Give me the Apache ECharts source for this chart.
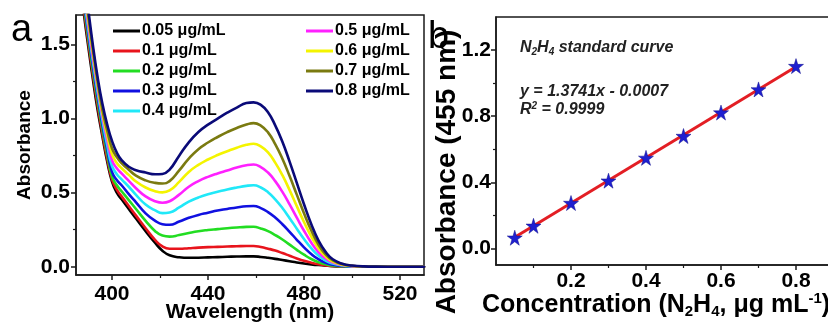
<!DOCTYPE html>
<html><head><meta charset="utf-8">
<script src="https://cdn.jsdelivr.net/npm/echarts@6/dist/echarts.min.js"></script>
<style>html,body{margin:0;padding:0;background:#fff}#c{width:828px;height:324px}</style>
</head><body><div id="c"></div>
<script>
// ---------- Panel a: UV-vis spectra ----------
const wavelengths = [385,388,390,392,394,396,398,400,402,404,407,410,414,418,421,424,428,432,436,440,444,448,452,456,459,462,465,468,471,474,477,480,483,486,489,492,496,500,505,510,520,530];
const abs005 = [2.2,1.75,1.50,1.27,1.06,0.88,0.71,0.575,0.50,0.455,0.39,0.325,0.24,0.16,0.108,0.077,0.064,0.06,0.061,0.063,0.065,0.067,0.069,0.07,0.07,0.066,0.060,0.053,0.045,0.037,0.029,0.022,0.016,0.011,0.007,0.004,0.002,0.001,0,0,0,0];
const abs01  = [2.25,1.78,1.53,1.30,1.09,0.90,0.73,0.59,0.52,0.475,0.41,0.345,0.26,0.18,0.137,0.121,0.121,0.125,0.129,0.132,0.134,0.136,0.138,0.14,0.14,0.133,0.122,0.109,0.092,0.074,0.056,0.040,0.027,0.016,0.009,0.005,0.002,0.001,0,0,0,0];
const abs02  = [2.3,1.81,1.56,1.33,1.12,0.93,0.76,0.61,0.55,0.51,0.45,0.39,0.31,0.24,0.21,0.203,0.214,0.228,0.24,0.248,0.254,0.26,0.265,0.269,0.27,0.258,0.240,0.214,0.184,0.149,0.114,0.081,0.052,0.031,0.016,0.008,0.003,0.001,0,0,0,0];
const abs03  = [2.35,1.84,1.59,1.36,1.15,0.96,0.79,0.64,0.585,0.55,0.49,0.435,0.36,0.31,0.287,0.283,0.305,0.33,0.35,0.365,0.38,0.39,0.40,0.408,0.41,0.396,0.369,0.332,0.287,0.236,0.182,0.131,0.086,0.051,0.027,0.014,0.005,0.002,0.001,0,0,0];
const abs04  = [2.4,1.87,1.62,1.39,1.18,0.99,0.82,0.68,0.625,0.59,0.54,0.485,0.42,0.38,0.362,0.366,0.40,0.44,0.468,0.49,0.506,0.522,0.535,0.546,0.55,0.535,0.503,0.455,0.396,0.328,0.257,0.187,0.125,0.075,0.041,0.021,0.008,0.003,0.001,0,0,0];
const abs05  = [2.42,1.9,1.65,1.42,1.21,1.02,0.86,0.72,0.665,0.63,0.58,0.53,0.475,0.442,0.432,0.442,0.487,0.54,0.578,0.607,0.63,0.65,0.67,0.685,0.69,0.673,0.636,0.578,0.505,0.421,0.331,0.243,0.164,0.099,0.055,0.028,0.011,0.004,0.001,0,0,0];
const abs06  = [2.45,1.93,1.68,1.45,1.23,1.04,0.89,0.76,0.70,0.665,0.62,0.575,0.535,0.51,0.502,0.515,0.573,0.64,0.688,0.724,0.754,0.78,0.804,0.823,0.83,0.813,0.772,0.703,0.618,0.517,0.409,0.302,0.205,0.125,0.07,0.035,0.014,0.005,0.0015,0.0003,0,0];
const abs07  = [2.48,1.96,1.71,1.47,1.25,1.06,0.92,0.80,0.74,0.70,0.655,0.615,0.583,0.566,0.562,0.578,0.65,0.73,0.794,0.839,0.876,0.909,0.937,0.96,0.97,0.953,0.907,0.828,0.729,0.612,0.487,0.361,0.246,0.150,0.084,0.043,0.017,0.007,0.002,0.0005,0,0];
const abs08  = [2.5,2.0,1.75,1.50,1.28,1.10,0.96,0.85,0.77,0.72,0.675,0.652,0.636,0.624,0.626,0.656,0.75,0.84,0.91,0.96,1.00,1.04,1.075,1.105,1.11,1.093,1.043,0.955,0.844,0.710,0.566,0.422,0.289,0.178,0.10,0.05,0.02,0.008,0.002,0.0006,0,0];
const seriesNames = ['0.05 μg/mL','0.1 μg/mL','0.2 μg/mL','0.3 μg/mL','0.4 μg/mL','0.5 μg/mL','0.6 μg/mL','0.7 μg/mL','0.8 μg/mL'];
const seriesColors = ['#000000','#e8141c','#22dd22','#1010e0','#20e8f8','#ff20ff','#f4f400','#7a7a10','#0a0a78'];
const spectra = [abs005,abs01,abs02,abs03,abs04,abs05,abs06,abs07,abs08];
const xTicksA = [400,440,480,520];
const xMinorA = [420,460,500];
const yTicksA = [0,0.5,1.0,1.5];
const yMinorA = [0.25,0.75,1.25];

// ---------- Panel b: standard curve ----------
const conc = [0.05,0.1,0.2,0.3,0.4,0.5,0.6,0.7,0.8];
const abs455 = [0.065,0.137,0.275,0.41,0.548,0.68,0.822,0.962,1.103];
const fitX = [0.05,0.8];
const fitY = [0.068,1.099];
const xTicksB = [0.2,0.4,0.6,0.8];
const xMinorB = [0.1,0.3,0.5,0.7];
const yTicksB = [0,0.4,0.8,1.2];
const yMinorB = [0.2,0.6,1.0];

const F = 'Liberation Sans';
const axisCol = '#1a1a1a';
const star = 'path://M50,0 L61,35 L98,35 L68,57 L79,91 L50,70 L21,91 L32,57 L2,35 L39,35 Z';

function mainAxis(gridIndex, min, max, ticks, fmt, pos, margin) {
  return {
    type:'value', gridIndex, min, max, position: pos,
    splitLine:{show:false},
    axisLine:{show:true, onZero:false, lineStyle:{color:axisCol, width:1.5}},
    axisTick:{show:true, inside:false, length:5, customValues:ticks, lineStyle:{color:axisCol, width:1.5}},
    axisLabel:{show:true, customValues:ticks, formatter:fmt, margin, color:'#000', fontFamily:F, fontWeight:'bold', fontSize:21}
  };
}
function minorAxis(gridIndex, min, max, ticks, pos) {
  return {
    type:'value', gridIndex, min, max, position: pos,
    splitLine:{show:false},
    axisLine:{show:false, onZero:false},
    axisTick:{show:true, inside:false, length:3, customValues:ticks, lineStyle:{color:axisCol, width:1.2}},
    axisLabel:{show:false}
  };
}
const f0 = v => String(v);
const f1 = v => v.toFixed(1);

const series = spectra.map((arr, i) => ({
  name: seriesNames[i], type:'line', xAxisIndex:0, yAxisIndex:0,
  data: wavelengths.map((w, j) => [w, arr[j]]),
  showSymbol:false, symbol:'none', smooth:0.5,
  lineStyle:{color:seriesColors[i], width:2.6, join:'round', cap:'round'}, itemStyle:{color:seriesColors[i]},
  clip:true, z: 2 + i
}));
series.push({
  type:'line', xAxisIndex:2, yAxisIndex:2,
  data: fitX.map((x, i) => [x, fitY[i]]),
  showSymbol:false, symbol:'none', lineStyle:{color:'#e31e24', width:3}, z:3
});
series.push({
  type:'scatter', xAxisIndex:2, yAxisIndex:2,
  data: conc.map((x, i) => [x, abs455[i]]),
  symbol: star, symbolSize: 15,
  itemStyle:{color:'#1f1fd0', borderColor:'#10108a', borderWidth:0.5, opacity:1}, z:4
});

const legendBase = {
  orient:'vertical', icon:'rect', itemWidth:27, itemHeight:3, itemGap:4, padding:0,
  textStyle:{fontFamily:F, fontWeight:'bold', fontSize:16, color:'#000', lineHeight:16, padding:[0,0,0,-3]},
  selectedMode:false
};

const option = {
  animation:false,
  backgroundColor:'#fff',
  grid:[
    {left:76, top:15, width:348, height:260, show:true, borderColor:axisCol, borderWidth:1.5, backgroundColor:'transparent', outerBoundsMode:'none', containLabel:false},
    {left:496, top:17, width:360, height:248, show:true, borderColor:axisCol, borderWidth:1.5, backgroundColor:'transparent', outerBoundsMode:'none', containLabel:false}
  ],
  legend:[
    Object.assign({}, legendBase, {left:113, top:23, data:seriesNames.slice(0,5)}),
    Object.assign({}, legendBase, {left:306, top:23, data:seriesNames.slice(5)})
  ],
  xAxis:[
    mainAxis(0, 385, 530, xTicksA, f0, 'bottom', 9),
    minorAxis(0, 385, 530, xMinorA, 'bottom'),
    mainAxis(1, 0, 0.96, xTicksB, f1, 'bottom', 6),
    minorAxis(1, 0, 0.96, xMinorB, 'bottom')
  ],
  yAxis:[
    mainAxis(0, -0.056, 1.7, yTicksA, f1, 'left', 6),
    minorAxis(0, -0.056, 1.7, yMinorA, 'left'),
    mainAxis(1, -0.1, 1.4, yTicksB, f1, 'left', 5),
    minorAxis(1, -0.1, 1.4, yMinorB, 'left')
  ],
  series,
  graphic:[
    {type:'text', x:11, y:31, style:{text:'a', font:'38px "Liberation Sans"', fill:'#000', textAlign:'left', textVerticalAlign:'middle'}},
    {type:'text', x:428, y:38, style:{text:'b', font:'38px "Liberation Sans"', fill:'#000', textAlign:'left', textVerticalAlign:'middle'}, z:10},
    {type:'text', x:250, y:312, style:{text:'Wavelength (nm)', font:'bold 21px "Liberation Sans"', fill:'#000', textAlign:'center', textVerticalAlign:'middle'}},
    {type:'text', x:25, y:145, rotation:Math.PI/2, style:{text:'Absorbance', font:'bold 19px "Liberation Sans"', fill:'#000', textAlign:'center', textVerticalAlign:'middle'}},
    {type:'text', x:447, y:172, rotation:Math.PI/2, style:{text:'Absorbance (455 nm)', font:'bold 28px "Liberation Sans"', fill:'#000', textAlign:'center', textVerticalAlign:'middle'}},
    {type:'text', x:482, y:305, style:{
      text:'{m|Concentration (N}{s|2}{m|H}{s|4}{m|, μg mL}{p|-1}{m|)}',
      textAlign:'left', textVerticalAlign:'middle', fill:'#000',
      rich:{
        m:{fontFamily:F, fontWeight:'bold', fontSize:25, lineHeight:28, fill:'#000'},
        s:{fontFamily:F, fontWeight:'bold', fontSize:15, lineHeight:15, verticalAlign:'bottom', fill:'#000'},
        p:{fontFamily:F, fontWeight:'bold', fontSize:15, lineHeight:15, verticalAlign:'top', fill:'#000'}
      }}},
    {type:'text', x:520, y:48, style:{
      text:'{m|N}{s|2}{m|H}{s|4}{m| standard curve}',
      textAlign:'left', textVerticalAlign:'middle', fill:'#222',
      rich:{
        m:{fontFamily:F, fontWeight:'bold', fontStyle:'italic', fontSize:16, lineHeight:18, fill:'#222'},
        s:{fontFamily:F, fontWeight:'bold', fontStyle:'italic', fontSize:10, lineHeight:8, verticalAlign:'bottom', fill:'#222'}
      }}},
    {type:'text', x:520, y:92, style:{text:'y = 1.3741x - 0.0007', font:'italic bold 16px "Liberation Sans"', fill:'#222', textAlign:'left', textVerticalAlign:'middle'}},
    {type:'text', x:520, y:110, style:{
      text:'{m|R}{p|2}{m| = 0.9999}',
      textAlign:'left', textVerticalAlign:'middle', fill:'#222',
      rich:{
        m:{fontFamily:F, fontWeight:'bold', fontStyle:'italic', fontSize:16, lineHeight:18, fill:'#222'},
        p:{fontFamily:F, fontWeight:'bold', fontStyle:'italic', fontSize:10, lineHeight:8, verticalAlign:'top', fill:'#222'}
      }}}
  ]
};
const chart = echarts.init(document.getElementById('c'), null, {renderer:'canvas'});
chart.setOption(option);
</script>
</body></html>
